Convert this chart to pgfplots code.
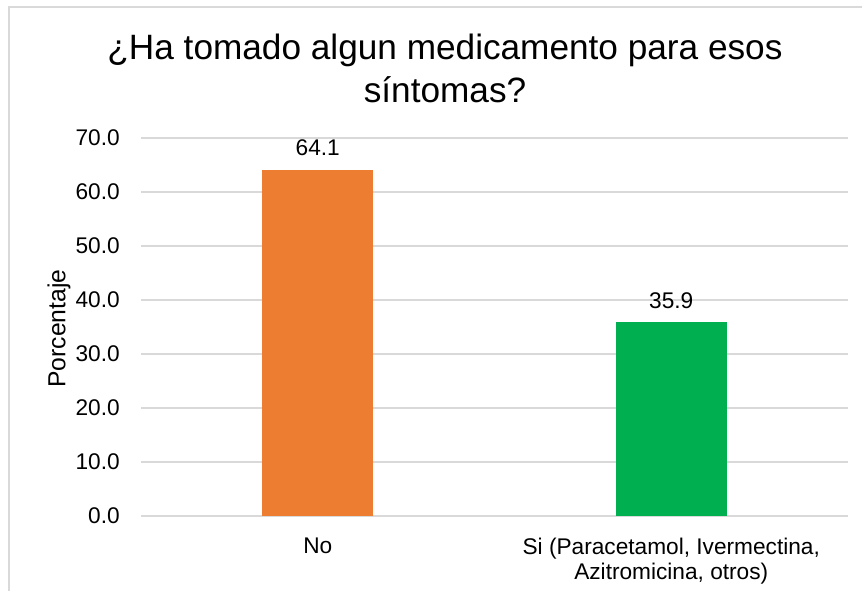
\documentclass[border=0pt]{standalone}
\usepackage{pgfplots}
\pgfplotsset{compat=1.18}
\usepackage{fontspec}
\setmainfont{Liberation Sans}
\definecolor{barorange}{HTML}{ED7D31}
\definecolor{bargreen}{HTML}{00B050}
\definecolor{gridgray}{HTML}{D9D9D9}
\begin{document}
\begin{tikzpicture}
\useasboundingbox (0pt,0pt) rectangle (646.5pt,-443.25pt);
\draw[gridgray, line width=0.9pt] (6.75pt,-443.25pt) -- (6.75pt,-5.25pt) -- (646.5pt,-5.25pt);
\node[anchor=base, font=\fontsize{26.4}{30}\selectfont] at (333.75pt,-45pt) {¿Ha tomado algun medicamento para esos};
\node[anchor=base, font=\fontsize{26.4}{30}\selectfont] at (333.75pt,-77.25pt) {síntomas?};
\node[rotate=90, font=\fontsize{18.5}{21}\selectfont] at (44.25pt,-246.5pt) {Porcentaje};
\begin{axis}[
  at={(105.75pt,-387pt)}, anchor=south west,
  scale only axis,
  width=530.25pt, height=283.5pt,
  xmin=-0.5, xmax=1.5, ymin=0, ymax=70,
  ybar, bar width=83.25pt, bar shift=0pt,
  xtick={0,1},
  xticklabels={No, {Si (Paracetamol, Ivermectina,\\Azitromicina, otros)}},
  ytick={0,10,...,70},
  axis line style={draw=none},
  tick style={draw=none},
  ymajorgrids,
  grid style={gridgray, line width=1.1pt},
  /pgf/number format/assume math mode=true,
  yticklabel style={font=\fontsize{17}{20}\selectfont, anchor=east, inner sep=0pt, xshift=-15.75pt,
    /pgf/number format/.cd, fixed, fixed zerofill, precision=1},
  xticklabel style={font=\fontsize{17}{19}\selectfont, align=center, anchor=north, inner sep=0pt, yshift=-11.8pt},
  nodes near coords,
  every node near coord/.append style={font=\fontsize{17}{20}\selectfont, anchor=base, inner sep=0pt, yshift=10.5pt,
    /pgf/number format/.cd, fixed, fixed zerofill, precision=1, assume math mode=true},
]
\addplot[fill=barorange, draw=none] coordinates {(0,64.1)};
\addplot[fill=bargreen, draw=none] coordinates {(1,35.9)};
\end{axis}
\end{tikzpicture}
\end{document}
